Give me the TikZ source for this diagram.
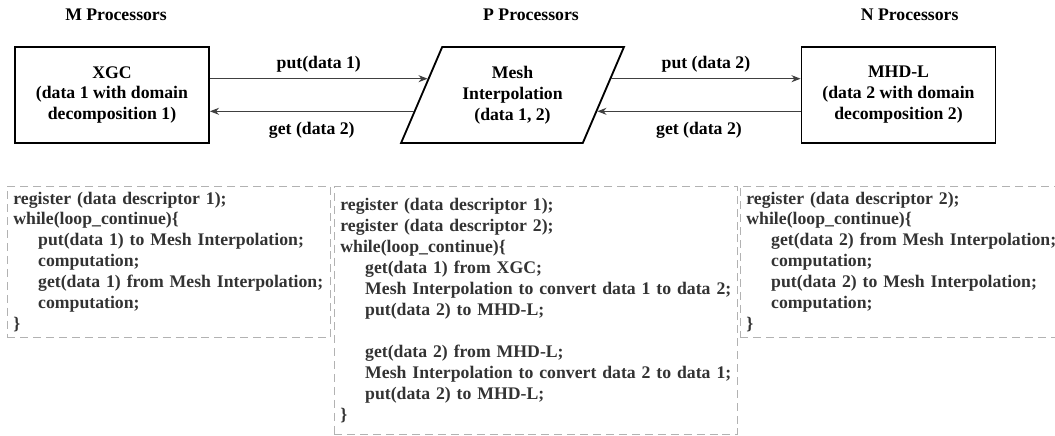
\documentclass[tikz,border=0pt]{standalone}
\usepackage{fontspec}
\setmainfont{Liberation Serif}
\usetikzlibrary{shapes.geometric,arrows.meta,calc}
\newcommand{\ind}[1]{\mbox{\hspace*{1.4em}#1}}

\begin{document}
\begin{tikzpicture}[font=\fontsize{12.6}{14.9}\selectfont\bfseries,
      proc/.style={draw,line width=1.3pt,minimum width=4.85cm,minimum height=2.4cm,align=center,inner sep=2pt},
      interp/.style={draw,line width=1.3pt,trapezium,trapezium left angle=64,trapezium right angle=116,
                     trapezium stretches=true,minimum width=5.575cm,minimum height=2.4cm,align=center,inner sep=2pt},
      code/.style={draw=black!30,dash pattern=on 5.7pt off 3.5pt,line width=0.6pt,text=black!80,
                   align=left,anchor=north west,inner xsep=0.15cm},
      arr/.style={-{Stealth[length=6.5pt,width=5pt]},draw=black!75,line width=0.8pt}]
    \useasboundingbox (0,0) rectangle (26.375,-10.875);
    \foreach \n/\x/\t in {hm/2.9/M,hp/13.275/P,hn/22.74/N}
      \node[inner sep=0pt] (\n) at (\x,-0.375) {\t\ Processors};
    \node[proc] (xgc) at (2.8,-2.375) {XGC\\(data 1 with domain\\decomposition 1)};
    \node[interp] (mesh) at (12.8125,-2.375) {Mesh\\Interpolation\\(data 1, 2)};
    \node[proc] (mhd) at (22.4625,-2.375) {MHD-L\\(data 2 with domain\\decomposition 2)};
    % put / get between the codes
    \draw[arr] ($(xgc.south east)!2/3!(xgc.north east)$) -- node[above=1pt] {put(data 1)}
               ($(mesh.bottom left corner)!2/3!(mesh.top left corner)$);
    \draw[arr] ($(mesh.bottom left corner)!1/3!(mesh.top left corner)$) -- node[below=4pt] {get (data 2)}
               ($(xgc.south east)!1/3!(xgc.north east)$);
    \draw[arr] ($(mesh.bottom right corner)!2/3!(mesh.top right corner)$) -- node[above=1pt] {put (data 2)}
               ($(mhd.south west)!2/3!(mhd.north west)$);
    \draw[arr] ($(mhd.south west)!1/3!(mhd.north west)$) -- node[below=4pt] {get (data 2)}
               ($(mesh.bottom right corner)!1/3!(mesh.top right corner)$);
    % pseudo code of each side
    \node[code,text width=7.775cm,minimum height=3.775cm] (cxgc) at (0.175,-4.65)
      {register (data descriptor 1);\\
       while(loop\_continue)\{\\
       \ind{put(data 1) to Mesh Interpolation;}\\
       \ind{computation;}\\
       \ind{get(data 1) from Mesh Interpolation;}\\
       \ind{computation;}\\
       \}};
    \node[code,text width=9.775cm,minimum height=6.2cm] (cmesh) at (8.35,-4.65)
      {register (data descriptor 1);\\
       register (data descriptor 2);\\
       while(loop\_continue)\{\\
       \ind{get(data 1) from XGC;}\\
       \ind{Mesh Interpolation to convert data 1 to data 2;}\\
       \ind{put(data 2) to MHD-L;}\\
       \mbox{}\\
       \ind{get(data 2) from MHD-L;}\\
       \ind{Mesh Interpolation to convert data 2 to data 1;}\\
       \ind{put(data 2) to MHD-L;}\\
       \}};
    \node[code,text width=7.65cm,minimum height=3.775cm] (cmhd) at (18.5,-4.65)
      {register (data descriptor 2);\\
       while(loop\_continue)\{\\
       \ind{get(data 2) from Mesh Interpolation;}\\
       \ind{computation;}\\
       \ind{put(data 2) to Mesh Interpolation;}\\
       \ind{computation;}\\
       \}};
\end{tikzpicture}
\end{document}
